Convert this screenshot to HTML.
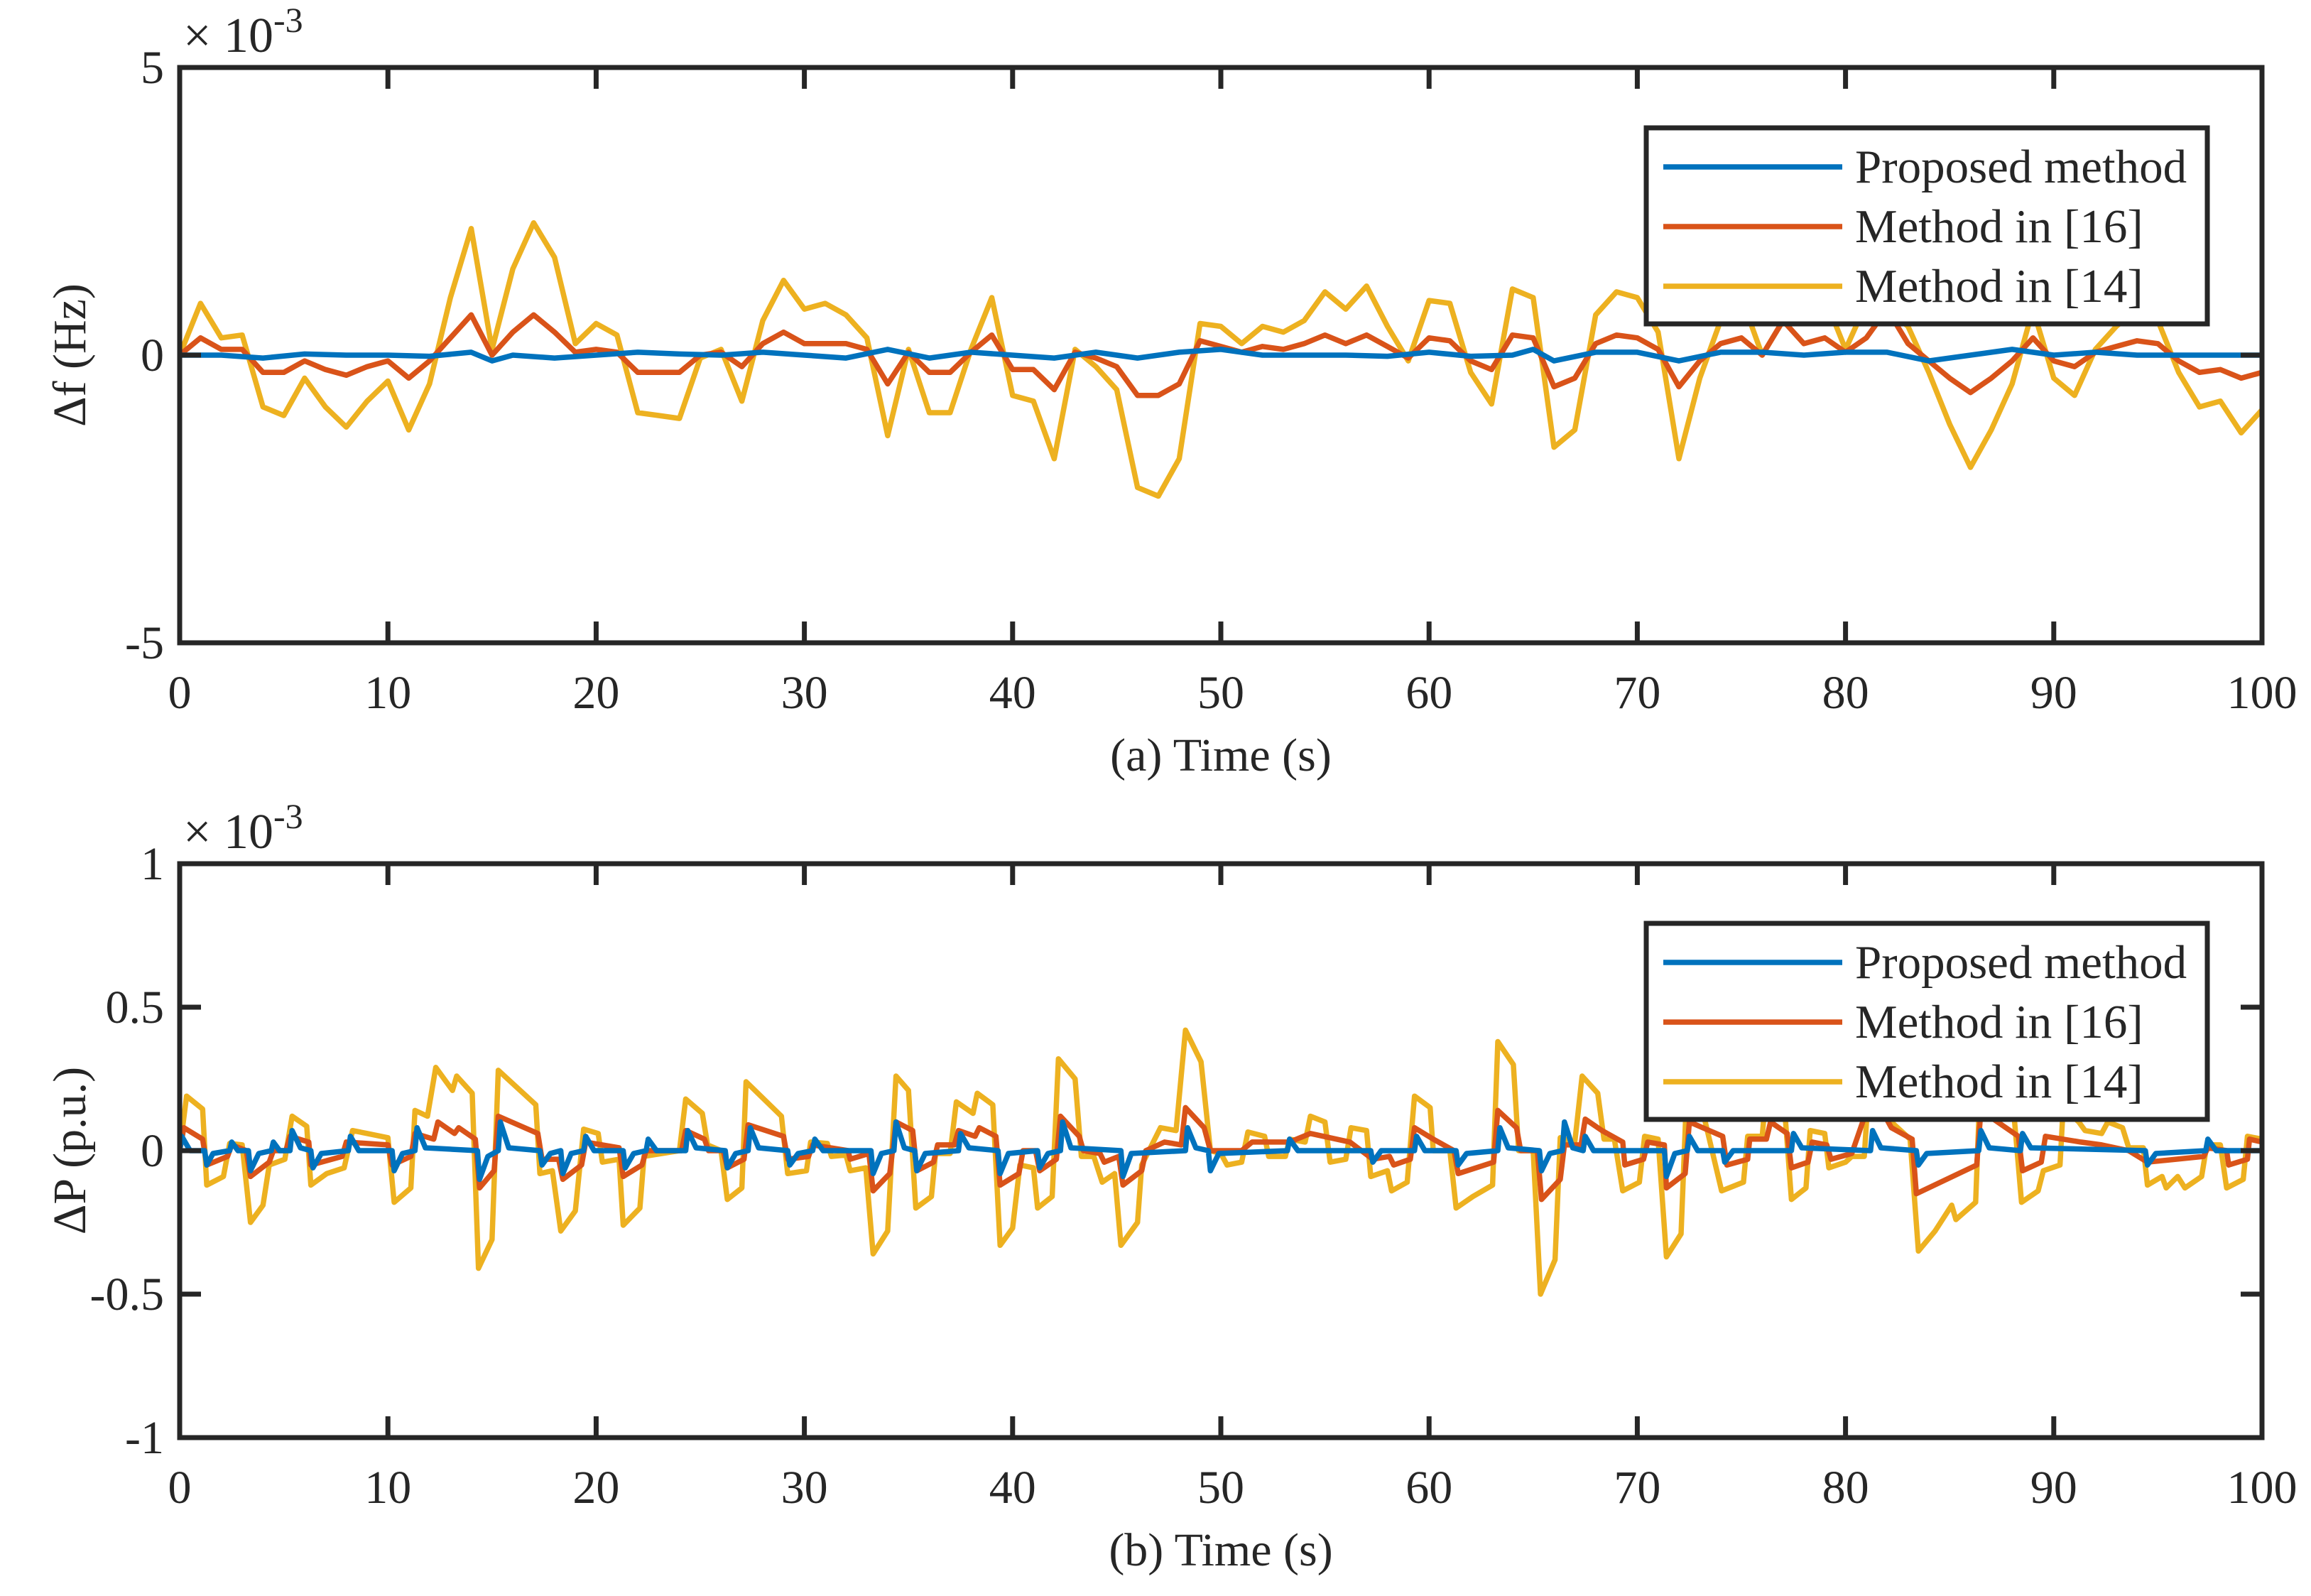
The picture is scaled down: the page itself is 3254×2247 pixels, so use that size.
<!DOCTYPE html>
<html><head><meta charset="utf-8"><style>
html,body{margin:0;padding:0;background:#fff}
svg{display:block}
text{font-family:"Liberation Serif",serif;fill:#262626}
</style></head><body>
<svg id="fig" width="3254" height="2247" viewBox="0 0 3254 2247" xmlns="http://www.w3.org/2000/svg">
<defs>
<clipPath id="clipA"><rect x="253" y="95" width="2932" height="810"/></clipPath>
<clipPath id="clipB"><rect x="253" y="1216" width="2932" height="808"/></clipPath>
</defs>
<g id="plotA"></g>
<g id="plotB"></g>
</svg>
<script>
// ---------- Data: panel (a) Δf (×1e-3 Hz) ----------
const fTimeYellow = [0,1,2,3,4,5,6,7,8,9,10,11,12,13,14,15,16,17,18,19,20,21,22,23,24,25,26,27,28,29,30,31,32,33,34,35,36,37,38,39,40,41,42,43,44,45,46,47,48,49,50,51,52,53,54,55,56,57,58,59,60,61,62,63,64,65,66,67,68,69,70,71,72,73,74,75,76,77,78,79,80,81,82,83,84,85,86,87,88,89,90,91,92,93,94,95,96,97,98,99,100];
const fYellow = [0,0.9,0.3,0.35,-0.9,-1.05,-0.4,-0.9,-1.25,-0.8,-0.45,-1.3,-0.5,1.0,2.2,0.1,1.5,2.3,1.7,0.2,0.55,0.35,-1.0,-1.05,-1.1,-0.05,0.1,-0.8,0.6,1.3,0.8,0.9,0.7,0.3,-1.4,0.1,-1.0,-1.0,0.1,1.0,-0.7,-0.8,-1.8,0.1,-0.2,-0.6,-2.3,-2.45,-1.8,0.55,0.5,0.2,0.5,0.4,0.6,1.1,0.8,1.2,0.5,-0.1,0.95,0.9,-0.3,-0.85,1.15,1.0,-1.6,-1.3,0.7,1.1,1.0,0.4,-1.8,-0.4,0.6,1.0,0.0,0.6,1.2,1.0,0.1,0.9,0.8,0.5,-0.3,-1.2,-1.95,-1.3,-0.5,0.8,-0.4,-0.7,0.1,0.5,0.8,0.6,-0.3,-0.9,-0.8,-1.35,-0.95];
const fOrange = [0,0.3,0.1,0.1,-0.3,-0.3,-0.1,-0.25,-0.35,-0.2,-0.1,-0.4,-0.1,0.3,0.7,0,0.4,0.7,0.4,0.05,0.1,0.05,-0.3,-0.3,-0.3,0,0.05,-0.2,0.2,0.4,0.2,0.2,0.2,0.1,-0.5,0.05,-0.3,-0.3,0.05,0.35,-0.25,-0.25,-0.6,0.05,-0.05,-0.2,-0.7,-0.7,-0.5,0.25,0.15,0.05,0.15,0.1,0.2,0.35,0.2,0.35,0.15,-0.05,0.3,0.25,-0.1,-0.25,0.35,0.3,-0.55,-0.4,0.2,0.35,0.3,0.1,-0.55,-0.1,0.2,0.3,0,0.6,0.2,0.3,0.05,0.3,0.8,0.2,-0.1,-0.4,-0.65,-0.4,-0.1,0.3,-0.1,-0.2,0.05,0.15,0.25,0.2,-0.1,-0.3,-0.25,-0.4,-0.3];
const fTimeBlue = [0,2,4,6,8,10,12,14,15,16,18,20,22,24,26,28,30,32,34,36,38,40,42,44,46,48,50,52,54,56,58,60,62,64,65,66,68,70,72,74,76,78,80,82,84,86,88,90,92,94,96,98,100];
const fBlue = [0,0,-0.05,0.02,0,0,-0.02,0.05,-0.1,0,-0.05,0,0.05,0.02,0,0.05,0,-0.05,0.1,-0.05,0.05,0,-0.05,0.05,-0.05,0.05,0.1,0,0,0,-0.02,0.05,-0.02,0,0.1,-0.1,0.05,0.05,-0.1,0.05,0.05,0,0.05,0.05,-0.1,0,0.1,0,0.05,0,0,0,0];
const fYTicks = [-5,0,5];
const xTicks = [0,10,20,30,40,50,60,70,80,90,100];

// ---------- Data: panel (b) ΔP (×1e-3 p.u.) ----------
const pTimeYellow = [0,0.33,1.1,1.3,2.1,2.4,3.0,3.4,4.0,4.3,5.05,5.4,6.1,6.3,7.06,7.9,8.3,9.0,10,10.3,11.1,11.3,11.9,12.3,13.1,13.3,14.05,14.35,15.0,15.3,17.1,17.3,17.9,18.3,19.0,19.4,20.1,20.3,21.1,21.3,22.1,22.3,24.0,24.3,25.1,25.35,26,26.3,27.0,27.2,28.9,29.2,30.1,30.3,31.1,31.3,32,32.2,32.95,33.3,34.0,34.4,35.0,35.35,36.1,36.3,37,37.3,38.1,38.3,39.05,39.4,40,40.35,41,41.2,41.9,42.2,43,43.3,43.9,44.3,44.9,45.2,46,46.2,47.1,47.85,48.3,49.05,49.5,50,50.3,51,51.3,52.1,52.3,53.1,53.3,54.05,54.3,55.0,55.25,56,56.25,57,57.2,58,58.2,58.95,59.3,60.05,60.2,61,61.3,62.1,63.05,63.3,64.05,64.3,65,65.35,66.05,66.3,67,67.35,68.1,68.4,68.9,69.3,70.1,70.35,71.0,71.4,72.1,72.4,73.1,74.05,75.1,75.3,76,76.3,77.0,77.4,78.1,78.3,79,79.2,80,80.3,80.9,81.2,82.2,83.1,83.5,84.3,85.1,85.3,86.25,86.5,88.0,88.45,89.25,89.5,90.3,90.45,91.2,91.5,92.3,92.6,93.3,93.6,94.3,94.5,95.2,95.4,95.95,96.3,97.1,97.35,98,98.3,99.1,99.3,100];
const pYellow = [0,0.19,0.145,-0.12,-0.09,0.025,0.02,-0.25,-0.19,-0.05,-0.03,0.12,0.085,-0.12,-0.08,-0.06,0.07,0.06,0.045,-0.18,-0.13,0.14,0.12,0.29,0.21,0.26,0.2,-0.41,-0.31,0.28,0.16,-0.08,-0.07,-0.28,-0.21,0.075,0.06,-0.04,-0.03,-0.26,-0.2,-0.02,0.0,0.18,0.13,0.02,0.0,-0.17,-0.13,0.24,0.12,-0.08,-0.07,0.03,0.025,-0.02,-0.015,-0.07,-0.06,-0.36,-0.28,0.26,0.21,-0.2,-0.16,-0.01,-0.01,0.17,0.13,0.2,0.16,-0.33,-0.27,-0.05,-0.06,-0.2,-0.16,0.32,0.25,-0.02,-0.02,-0.11,-0.08,-0.33,-0.25,-0.05,0.08,0.07,0.42,0.31,0.0,-0.01,-0.05,-0.04,0.065,0.05,-0.02,-0.02,0.04,0.03,0.12,0.1,-0.04,-0.03,0.08,0.07,-0.09,-0.07,-0.14,-0.11,0.19,0.15,0.0,0.0,-0.2,-0.16,-0.12,0.38,0.3,0.0,0.0,-0.5,-0.38,0.045,0.03,0.26,0.2,0.04,0.04,-0.14,-0.11,0.05,0.04,-0.37,-0.29,0.26,0.15,-0.14,-0.11,0.05,0.05,0.3,0.22,-0.17,-0.13,0.07,0.06,-0.06,-0.04,-0.02,-0.02,0.32,0.1,0.04,-0.35,-0.28,-0.19,-0.24,-0.18,0.3,0.2,-0.18,-0.14,-0.07,-0.05,0.15,0.1,0.07,0.06,0.1,0.08,0.01,0.01,-0.12,-0.09,-0.13,-0.09,-0.13,-0.09,0.02,0.02,-0.13,-0.1,0.05,0.04];
const pTimeOrange = [0,0.2,1.1,1.3,2.3,2.5,3.2,3.4,4.3,4.5,5.1,5.3,6.2,6.3,7.8,8.0,10,10.2,11.1,11.3,12.2,12.4,13.2,13.4,14.2,14.4,15.1,15.3,17.2,17.4,18.2,18.4,19.3,19.5,21.1,21.3,22.2,22.4,24.1,24.3,25.2,25.4,26.1,26.3,27.1,27.3,29.0,29.2,30.2,30.4,32.1,32.2,33.1,33.3,34.1,34.4,35.2,35.4,36.2,36.4,37.2,37.4,38.2,38.4,39.2,39.4,40.3,40.5,41.1,41.3,42.1,42.3,43.2,43.4,44.2,44.4,45.1,45.3,46.2,46.4,47.3,48.1,48.3,49.2,49.5,51,51.5,53.3,54.3,56.2,57.3,58.1,58.3,59.1,59.3,60.2,61.2,61.4,63.1,63.3,64.2,64.4,65.2,65.4,66.3,66.5,67.3,67.5,68.3,69.3,69.4,70.3,70.5,71.3,71.4,72.3,72.5,74.1,74.3,75.3,75.4,76.2,76.4,77.2,77.4,78.2,78.4,79.1,79.3,80.3,81.3,82.2,83.2,83.4,86.3,86.5,87.3,88.3,88.5,89.4,89.6,91.3,92.3,93.6,94.5,97.2,97.4,98.3,98.4,99.3,99.4,100];
const pOrange = [0,0.08,0.04,-0.05,-0.02,0.02,0,-0.09,-0.04,0,0,0.05,0.03,-0.05,-0.02,0.03,0.02,-0.05,-0.02,0.06,0.04,0.1,0.06,0.08,0.04,-0.13,-0.07,0.12,0.06,-0.03,-0.03,-0.1,-0.05,0.03,0.01,-0.09,-0.05,0,0,0.07,0.04,0,0,-0.06,-0.03,0.09,0.05,-0.03,-0.02,0.02,0,-0.03,-0.01,-0.14,-0.08,0.1,0.07,-0.07,-0.04,0.02,0.02,0.07,0.05,0.08,0.05,-0.12,-0.08,0,0,-0.07,-0.03,0.12,0.05,0,-0.01,-0.04,-0.02,-0.12,-0.07,0,0.03,0.02,0.15,0.08,0,0,0.03,0.03,0.06,0.03,-0.03,-0.02,-0.05,-0.03,0.08,0.04,0,-0.08,-0.04,0.14,0.08,0,0,-0.17,-0.1,0.02,0.02,0.11,0.07,0.03,-0.05,-0.03,0.03,0.02,-0.13,-0.08,0.1,0.05,-0.05,-0.03,0.04,0.04,0.1,0.06,-0.06,-0.04,0.03,0.02,-0.03,-0.01,0.2,0.08,0.04,-0.15,-0.05,0.14,0.1,0.05,-0.07,-0.04,0.05,0.03,0.02,0,-0.04,-0.02,0.01,0,-0.05,-0.03,0.04,0.03];
const pTimeBlue = [0,0.1,0.5,1.2,1.3,1.6,2.4,2.5,2.8,3.3,3.4,3.8,4.4,4.5,4.8,5.3,5.4,5.8,6.3,6.4,6.8,8.1,8.2,8.6,10.2,10.3,10.7,11.3,11.4,11.8,14.3,14.4,14.8,15.3,15.4,15.8,17.3,17.4,17.8,18.3,18.4,18.8,19.4,19.5,19.9,21.3,21.4,21.8,22.4,22.5,22.9,24.3,24.4,24.8,26.2,26.3,26.7,27.3,27.4,27.8,29.2,29.3,29.7,30.4,30.5,30.9,33.2,33.3,33.7,34.3,34.4,34.8,35.3,35.4,35.8,37.4,37.5,37.9,39.3,39.4,39.8,41.2,41.3,41.7,42.3,42.4,42.8,45.2,45.3,45.7,48.3,48.4,48.8,49.4,49.5,49.9,53.2,53.3,53.7,57.2,57.3,57.7,59.3,59.4,59.8,61.3,61.4,61.8,63.3,63.4,63.8,65.3,65.4,65.8,66.4,66.5,66.9,67.4,67.5,67.9,71.3,71.4,71.8,72.4,72.5,72.9,74.1,74.2,74.6,77.4,77.5,77.9,81.2,81.3,81.7,83.4,83.5,83.9,86.4,86.5,86.9,88.4,88.5,88.9,94.4,94.5,94.9,97.3,97.4,97.8,100];
const pBlue = [0,0.05,0,0,-0.05,-0.01,0,0.03,0,0,-0.07,-0.01,0,0.03,0,0,0.07,0.01,0,-0.06,-0.01,0,0.05,0,0,-0.07,-0.01,0,0.08,0.01,0,-0.1,-0.02,0,0.1,0.01,0,-0.05,-0.01,0,-0.08,-0.01,0,0.05,0,0,-0.06,-0.01,0,0.04,0,0,0.07,0.01,0,-0.06,-0.01,0,0.08,0.01,0,-0.05,-0.01,0,0.04,0,0,-0.08,-0.01,0,0.1,0.01,0,-0.07,-0.01,0,0.06,0.01,0,-0.08,-0.01,0,-0.06,-0.01,0,0.1,0.01,0,-0.09,-0.01,0,0.08,0.01,0,-0.07,-0.01,0,0.04,0,0,-0.04,0,0,0.05,0,0,-0.05,-0.01,0,0.08,0.01,0,-0.07,-0.01,0,0.1,0.01,0,0.05,0,0,-0.09,-0.01,0,0.05,0,0,-0.04,0,0,0.06,0.01,0,0.07,0.01,0,-0.05,-0.01,0,0.07,0.01,0,0.06,0.01,0,-0.05,-0.01,0,0.04,0,0];
const pYTicks = [-1,-0.5,0,0.5,1];
const pYTickLabels = ["-1","-0.5","0","0.5","1"];
const seriesNames = ["Proposed method","Method in [16]","Method in [14]"];
const colors = ["#0072BD","#D95319","#EDB120"];

const NS = "http://www.w3.org/2000/svg";
const L = 253, R = 3185;
function mk(tag, attrs, parent){ const e=document.createElementNS(NS,tag); for(const k in attrs) e.setAttribute(k,attrs[k]); parent.appendChild(e); return e; }
function xs(t){ return L + (t/100)*(R-L); }

function panel(g, top, bottom, ymin, ymax, yticks, ylabels, series, ylab, xlab, clipId, legendTop){
  const ys = v => bottom - (v-ymin)/(ymax-ymin)*(bottom-top);
  const lines = mk('g',{'clip-path':'url(#'+clipId+')'},g);
  
  
  series.forEach((s,i)=>{
    const d = s.t.map((t,j)=>(j?'L':'M')+xs(t).toFixed(1)+' '+ys(s.v[j]).toFixed(1)).join(' ');
    const p = mk('path',{d:d,fill:'none',stroke:colors[s.c],'stroke-width':7.5,'stroke-linejoin':'round'},lines);
    
    
  });
  const fr = mk('rect',{x:L,y:top,width:R-L,height:bottom-top,fill:'none',stroke:'#262626','stroke-width':7},g);
  
  
  xTicks.forEach(t=>{
    const x=xs(t);
    mk('line',{x1:x,y1:bottom,x2:x,y2:bottom-30,stroke:'#262626','stroke-width':7},g);
    mk('line',{x1:x,y1:top,x2:x,y2:top+30,stroke:'#262626','stroke-width':7},g);
    const tx = mk('text',{x:x,y:bottom+92,'font-size':66,'text-anchor':'middle'},g);
    tx.textContent = t;
    
    
  });
  yticks.forEach((v,i)=>{
    const y=ys(v);
    mk('line',{x1:L,y1:y,x2:L+30,y2:y,stroke:'#262626','stroke-width':7},g);
    mk('line',{x1:R,y1:y,x2:R-30,y2:y,stroke:'#262626','stroke-width':7},g);
    const tx = mk('text',{x:L-22,y:y+22,'font-size':66,'text-anchor':'end'},g);
    tx.textContent = ylabels[i];
    
    
  });
  const ex = mk('text',{x:258,y:top-22,'font-size':70},g);
  
  
  ex.innerHTML = '× 10<tspan dy="-28" font-size="50">-3</tspan>';
  const yl = mk('text',{x:0,y:0,'font-size':66,'text-anchor':'middle',transform:'translate(120,'+((top+bottom)/2)+') rotate(-90)'},g);
  yl.textContent = ylab;
  
  
  const xl = mk('text',{x:(L+R)/2,y:bottom+180,'font-size':66,'text-anchor':'middle'},g);
  xl.textContent = xlab;
  
  
  const lg = mk('g',{},g);
  
  
  mk('rect',{x:2318,y:legendTop,width:790,height:276,fill:'#fff',stroke:'#262626','stroke-width':7},lg);
  seriesNames.forEach((n,i)=>{
    const y = legendTop+55+i*84;
    const ln = mk('line',{x1:2342,y1:y,x2:2594,y2:y,stroke:colors[i],'stroke-width':7.5},lg);
    
    
    const tx = mk('text',{x:2612,y:y+22,'font-size':67,fill:'#000'},lg);
    tx.textContent = n;
    
    
  });
}

panel(document.getElementById('plotA'), 95, 905, -5, 5, fYTicks, ["-5","0","5"], [
  {t:fTimeYellow, v:fYellow, c:2, name:'method-14-line'},
  {t:fTimeYellow, v:fOrange, c:1, name:'method-16-line'},
  {t:fTimeBlue, v:fBlue, c:0, name:'proposed-method-line'}
], 'Δf (Hz)', '(a) Time (s)', 'clipA', 180);

panel(document.getElementById('plotB'), 1216, 2024, -1, 1, pYTicks, pYTickLabels, [
  {t:pTimeYellow, v:pYellow, c:2, name:'method-14-line'},
  {t:pTimeOrange, v:pOrange, c:1, name:'method-16-line'},
  {t:pTimeBlue, v:pBlue, c:0, name:'proposed-method-line'}
], 'ΔP (p.u.)', '(b) Time (s)', 'clipB', 1300);
</script>
</body></html>
